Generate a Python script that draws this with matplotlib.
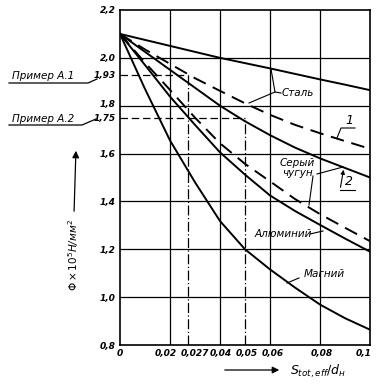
import numpy as np
import matplotlib.pyplot as plt
import matplotlib.transforms as mtransforms

plt.rcParams['font.family'] = ['DejaVu Sans']
plt.rcParams['mathtext.fontset'] = 'dejavusans'

# values
s = [0, 0.01, 0.02, 0.03, 0.04, 0.05, 0.06, 0.07, 0.08, 0.09, 0.1]
stal = [2.1, 2.075, 2.05, 2.025, 2.0, 1.978, 1.956, 1.933, 1.91, 1.888, 1.865]
stal_1 = [2.1, 2.035, 1.975, 1.915, 1.862, 1.81, 1.762, 1.72, 1.685, 1.652, 1.62]
chugun = [2.1, 2.025, 1.95, 1.875, 1.80, 1.735, 1.677, 1.625, 1.58, 1.54, 1.50]
chugun_2 = [2.1, 1.98, 1.866, 1.75, 1.643, 1.557, 1.484, 1.41, 1.347, 1.29, 1.234]
alum = [2.1, 1.97, 1.838, 1.72, 1.605, 1.512, 1.425, 1.36, 1.302, 1.245, 1.19]
magn = [2.1, 1.87, 1.655, 1.48, 1.318, 1.20, 1.116, 1.04, 0.969, 0.912, 0.864]

xticks = [0, 0.02, 0.027, 0.04, 0.05, 0.06, 0.08, 0.1]
xlabels = ['0', '0,02', '0,027', '0,04', '0,05', '0,06', '0,08', '0,1']
yticks = [0.8, 1.0, 1.2, 1.4, 1.6, 1.75, 1.8, 1.93, 2.0, 2.2]
ylabels = ['0,8', '1,0', '1,2', '1,4', '1,6', '1,75', '1,8', '1,93', '2,0', '2,2']
ex1 = (0.027, 1.93)
ex2 = (0.05, 1.75)

fig = plt.figure(figsize=(3.77, 3.84), dpi=100)
ax = fig.add_axes([120/377, 1-345/384, 250/377, 335/384])
ax.set_xlim(0, 0.1)
ax.set_ylim(0.8, 2.2)

# grid
for gx in [0.02, 0.04, 0.06, 0.08]:
    ax.axvline(gx, color='k', lw=0.9)
for gy in [1.0, 1.2, 1.4, 1.6, 1.8, 2.0]:
    ax.axhline(gy, color='k', lw=0.9)
ax.plot([ex1[0], ex1[0]], [0.8, ex1[1]], color='k', lw=0.9, dashes=(8, 2, 1, 2))
ax.plot([ex2[0], ex2[0]], [0.8, ex2[1]], color='k', lw=0.9, dashes=(8, 2, 1, 2))
ax.plot([0, ex1[0]], [ex1[1], ex1[1]], color='k', lw=0.9, dashes=(6, 3))
ax.plot([0, ex2[0]], [ex2[1], ex2[1]], color='k', lw=0.9, dashes=(6, 3))

lw = 1.4
ax.plot(s, stal, 'k-', lw=lw)
ax.plot(s, stal_1, 'k', lw=lw, dashes=(7, 4))
ax.plot(s, chugun, 'k-', lw=lw)
ax.plot(s, chugun_2, 'k', lw=lw, dashes=(7, 4))
ax.plot(s, alum, 'k-', lw=lw)
ax.plot(s, magn, 'k-', lw=lw)

for sp in ax.spines.values():
    sp.set_linewidth(1.2)
ax.set_xticks(xticks)
ax.set_xticklabels(xlabels)
ax.set_yticks(yticks)
ax.set_yticklabels(ylabels)
ax.tick_params(length=0, pad=3)
for t in ax.get_xticklabels() + ax.get_yticklabels():
    t.set_fontsize(6.5)
    t.set_style('italic')
    t.set_fontweight('bold')

# nudge crowded x labels (pixels)
shift = {'0,02': -4, '0,027': 7, '0,04': 1, '0,05': 2, '0,06': 3, '0,08': 2, '0,1': -6}
for t in ax.get_xticklabels():
    dx = shift.get(t.get_text(), 0)
    t.set_transform(t.get_transform() + mtransforms.ScaledTranslation(dx/100, 0, fig.dpi_scale_trans))
for t in ax.get_yticklabels():
    if t.get_text() == '1,8':
        t.set_transform(t.get_transform() + mtransforms.ScaledTranslation(0, 2/100, fig.dpi_scale_trans))

fs = 7.5
kw = dict(fontsize=fs, style='italic', color='k')
def px(x, y):
    return (x/377, 1-y/384)

fig.text(*px(12, 76), 'Пример А.1', va='center', ha='left', **kw)
fig.text(*px(12, 119), 'Пример А.2', va='center', ha='left', **kw)
fig.add_artist(plt.Line2D([9/377, 88/377, 97/377], [1-83/384, 1-83/384, 1-79/384], color='k', lw=0.9))
fig.add_artist(plt.Line2D([9/377, 82/377, 96/377], [1-125/384, 1-125/384, 1-119/384], color='k', lw=0.9))

# axis titles
fig.text(*px(74, 255), r'$\Phi\times10^5$Н/мм$^2$', rotation=90, ha='center', va='center', **kw)
ax.annotate('', xy=px(76, 148), xycoords='figure fraction', xytext=px(74, 214),
            textcoords='figure fraction', arrowprops=dict(arrowstyle='-|>', color='k', lw=0.9))
ax.annotate('', xy=px(282, 370), xycoords='figure fraction', xytext=px(222, 370),
            textcoords='figure fraction', arrowprops=dict(arrowstyle='-|>', color='k', lw=0.9))
fig.text(*px(290, 371), r'$S_{tot,eff}/d_{н}$', ha='left', va='center', fontsize=9)

# curve labels
def line(pts):
    xs = [p[0]/377 for p in pts]
    ys = [1-p[1]/384 for p in pts]
    fig.add_artist(plt.Line2D(xs, ys, color='k', lw=0.8))

fig.text(*px(298, 93), 'Сталь', ha='center', va='center', **kw)
line([(271, 69), (275, 92), (249, 103)])
line([(275, 92), (281, 93)])
fig.text(*px(349, 120), '1', ha='center', va='center', fontsize=9, style='italic')
line([(355, 128), (341, 128), (337, 138)])
fig.text(*px(297, 168), 'Серый\nчугун', ha='center', va='center', linespacing=0.9, **kw)
line([(317, 174), (343, 167)])
line([(313, 176), (309, 205)])
fig.text(*px(349, 182), '2', ha='center', va='center', fontsize=9, style='italic')
line([(355, 190), (340, 190)])
ax.annotate('', xy=px(344, 167), xycoords='figure fraction', xytext=px(340, 190),
            textcoords='figure fraction', arrowprops=dict(arrowstyle='-|>', color='k', lw=0.8, mutation_scale=6))
fig.text(*px(283, 234), 'Алюминий', ha='center', va='center', **kw)
line([(310, 234), (323, 231)])
fig.text(*px(324, 274), 'Магний', ha='center', va='center', **kw)
line([(299, 278), (287, 283)])

plt.savefig('out.png', dpi=100)
